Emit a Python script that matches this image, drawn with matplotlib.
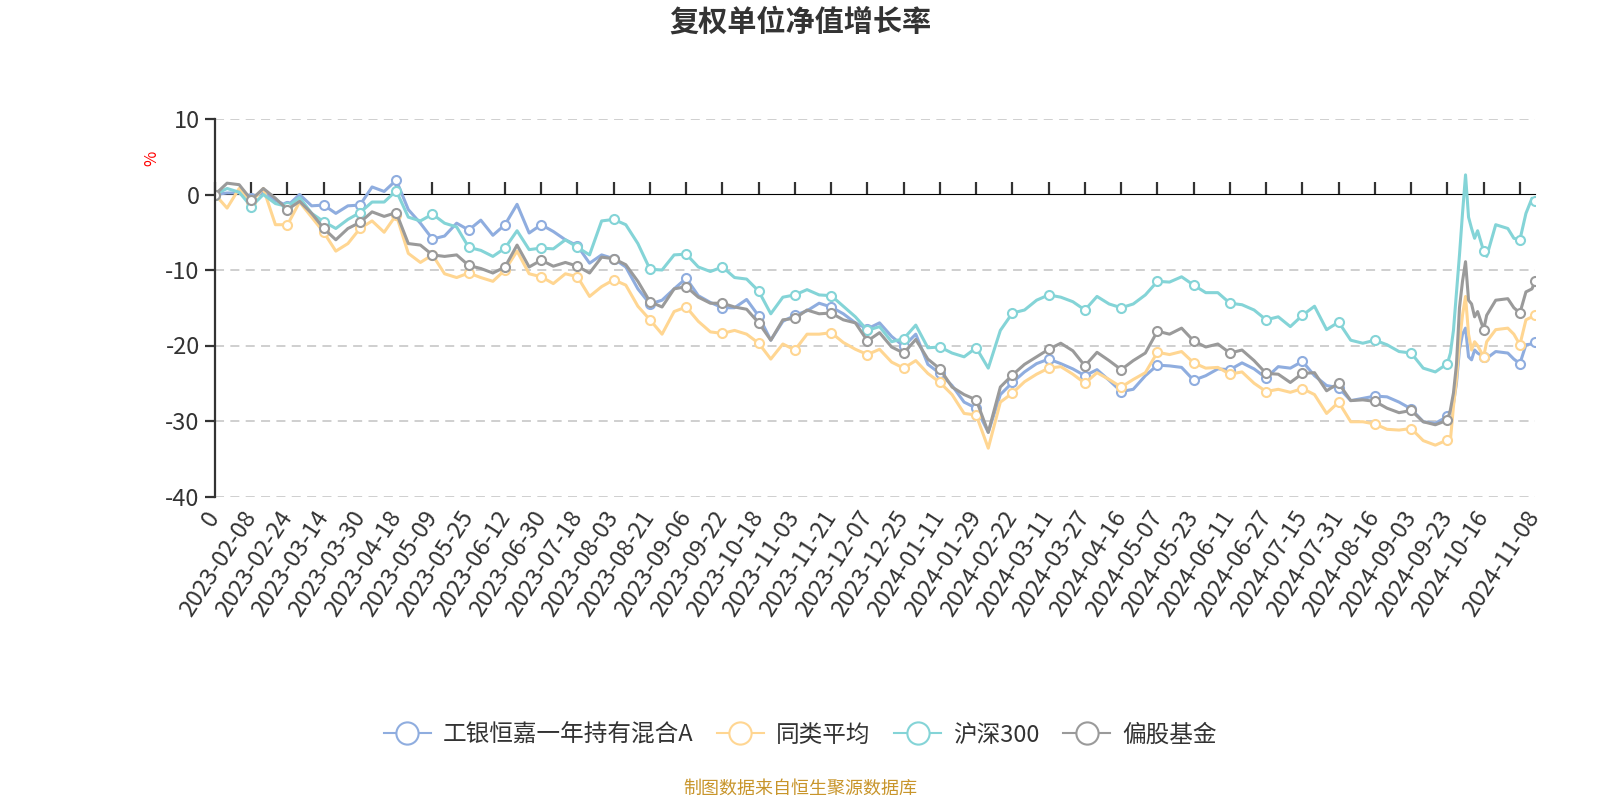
import numpy as np
import matplotlib
matplotlib.use("Agg")
from matplotlib import pyplot as plt
from matplotlib.lines import Line2D

plt.rcParams['font.family'] = ['Noto Sans CJK SC', 'DejaVu Sans']
plt.rcParams['axes.unicode_minus'] = False

# trading-day offset of each sample (every 4 days, denser around the Sept 2024 spike)
day = list(range(0, 405, 4)) + [408, 409, 410, 411, 412, 413, 414, 415, 416, 417,
                                 418, 420, 421, 424, 428, 430, 432, 434, 436, 437]

fund = [0, 0.2, 0.2, -0.5, 0.3, -0.8, -1.5, 0.0, -1.5, -1.4, -2.5, -1.5, -1.4, 1.0,
        0.4, 1.9, -2.0, -3.8, -5.9, -5.5, -3.8, -4.7, -3.4, -5.4, -4.0, -1.3, -5.1, -4.0,
        -4.9, -6.0, -6.8, -9.1, -8.0, -8.5, -9.6, -12.5, -14.5, -14.0, -12.5, -11.1, -13.4,
        -14.3, -15.0, -15.0, -13.9, -16.1, -19.3, -16.8, -16.0, -15.4, -14.4, -14.9, -15.8,
        -17.0, -17.8,
        -17.0, -18.8, -20.1, -18.5, -22.5, -23.7, -25.3, -27.5, -28.3, -31.5, -26.5, -24.9,
        -23.5, -22.4, -21.8, -22.4, -23.1, -24.0, -23.2, -24.6, -26.1, -25.8, -24.0, -22.6,
        -22.7, -22.9, -24.6, -24.0,
        -23.1, -23.2, -22.3, -23.1, -24.3, -22.8, -23.0, -22.1, -24.0, -25.3, -25.6, -27.3,
        -27.0, -26.7, -26.8, -27.5, -28.4, -30.1, -30.3,
        -29.4, -29.2, -27.7, -25.0, -20.5, -18.5, -17.7, -21.5, -21.9, -20.6, -21.0, -21.5,
        -21.7, -20.8, -21.0, -21.8, -22.4, -19.9, -19.8, -19.6]

peer_avg = [0, -1.8, 0.8, -1.0, 0.8, -4.0, -4.0, -1.0, -3.0, -5.0, -7.5, -6.5, -4.5, -3.5,
            -5.0, -2.7, -7.8, -9.0, -8.0, -10.5, -11.0, -10.4, -11.0, -11.5, -10.0, -7.5,
            -10.5, -10.9,
            -11.8, -10.5, -10.9, -13.5, -12.2, -11.3, -12.0, -14.8, -16.6, -18.5, -15.5, -14.9,
            -16.8, -18.2, -18.4, -18.0, -18.5, -19.7, -21.8, -19.8, -20.6, -18.5, -18.5, -18.3,
            -19.6, -20.5, -21.2,
            -20.5, -22.2, -23.0, -22.0, -23.7, -24.9, -26.5, -29.0, -29.2, -33.6, -27.5, -26.3,
            -24.8, -23.8, -23.0, -22.8, -23.8, -25.0, -23.6, -24.5, -25.5, -24.5, -23.6, -20.9,
            -21.2, -20.8, -22.3, -23.0,
            -22.9, -23.8, -23.5, -25.0, -26.1, -25.8, -26.2, -25.7, -26.5, -29.0, -27.5, -30.1,
            -30.1, -30.4, -31.1, -31.2, -31.0, -32.6, -33.2,
            -32.5, -32.5, -28.1, -24.5, -19.5, -16.0, -13.5, -18.5, -20.6, -19.5, -20.0, -21.5,
            -19.5, -17.9, -17.7, -18.5, -19.9, -16.6, -16.2, -16.0]

hs300 = [0, 0.8, 0.3, -1.6, 0, -1.2, -1.6, -0.4, -2.5, -3.6, -4.5, -3.3, -2.4, -1.0, -1.0,
         0.5, -3.0, -3.5, -2.6, -3.8, -4.3, -7.0, -7.4, -8.2, -7.1, -4.8, -7.3, -7.1,
         -7.2, -6.0, -7.0, -8.0, -3.5, -3.3, -4.0, -6.5, -9.9, -10.0, -8.0, -7.9, -9.6, -10.2,
         -9.6, -11.0, -11.2, -12.8, -15.8, -13.6, -13.3, -12.6, -13.3, -13.4, -14.8, -16.2,
         -18.0,
         -17.5, -19.5, -19.1, -17.3, -20.3, -20.2, -21.0, -21.5, -20.3, -23.0, -18.0, -15.7,
         -15.3, -14.0, -13.3, -13.6, -14.2, -15.3, -13.5, -14.5, -15.0, -14.5, -13.3, -11.5,
         -11.6, -10.9, -12.0, -13.0,
         -13.0, -14.4, -14.6, -15.3, -16.6, -16.2, -17.5, -16.0, -14.8, -17.9, -16.9, -19.3,
         -19.7, -19.3, -19.9, -20.8, -21.0, -23.0, -23.5,
         -22.4, -21.0, -18.0, -13.0, -8.0, -2.5, 2.6, -3.0, -4.5, -5.8, -4.8, -7.5, -8.2,
         -4.0, -4.5, -5.8, -6.0, -2.5, -0.5, -0.9]

equity_funds = [0, 1.5, 1.3, -0.7, 0.8, -0.5, -2.0, -0.9, -2.5, -4.5, -6.0, -4.5, -3.7, -2.3,
                -2.9, -2.4, -6.5, -6.7, -8.0, -8.2, -8.0, -9.4, -9.8, -10.4, -9.6, -6.7, -9.6,
                -8.7,
                -9.5, -9.0, -9.5, -10.4, -8.3, -8.5, -9.3, -11.5, -14.2, -14.9, -12.5, -12.2,
                -13.6, -14.4, -14.4, -14.9, -15.2, -17.0, -19.3, -16.6, -16.4, -15.3, -15.8,
                -15.7, -16.6, -17.0, -19.4,
                -18.3, -20.2, -21.0, -19.2, -21.8, -23.1, -25.5, -26.5, -27.2, -31.5, -25.5,
                -23.9, -22.5, -21.5, -20.5, -19.7, -20.7, -22.7, -20.9, -22.0, -23.2, -22.0,
                -21.0, -18.1, -18.5, -17.7, -19.4, -20.2,
                -19.8, -21.0, -20.6, -22.0, -23.7, -23.8, -24.9, -23.7, -23.6, -26.0, -25.0,
                -27.3, -27.2, -27.4, -28.3, -28.9, -28.6, -30.1, -30.5,
                -29.9, -28.5, -26.3, -22.5, -15.0, -11.5, -8.9, -14.0, -14.5, -16.2, -15.5,
                -17.9, -16.0, -14.0, -13.8, -15.0, -15.7, -12.9, -12.5, -11.5]

series_names = ["工银恒嘉一年持有混合A", "同类平均", "沪深300", "偏股基金"]
colors = ["#8FADDF", "#FFD692", "#84D4D7", "#9A9A9A"]

x_labels = ["0", "2023-02-08", "2023-02-24", "2023-03-14", "2023-03-30", "2023-04-18",
            "2023-05-09", "2023-05-25", "2023-06-12", "2023-06-30", "2023-07-18",
            "2023-08-03", "2023-08-21", "2023-09-06", "2023-09-22", "2023-10-18",
            "2023-11-03", "2023-11-21", "2023-12-07", "2023-12-25", "2024-01-11",
            "2024-01-29", "2024-02-22", "2024-03-11", "2024-03-27", "2024-04-16",
            "2024-05-07", "2024-05-23", "2024-06-11", "2024-06-27", "2024-07-15",
            "2024-07-31", "2024-08-16", "2024-09-03", "2024-09-23", "2024-10-16",
            "2024-11-08"]
label_step = 12  # trading days between labels
last_day = day[-1]

text_c = "#333333"

fig = plt.figure(figsize=(16, 8), dpi=100)
ax = fig.add_axes([215 / 1600, 1 - 496.5 / 800, 1320 / 1600, 377.5 / 800])

day = np.array(day)
tick_days = np.arange(0, last_day, label_step)
mark_idx = list(np.where(np.isin(day, tick_days))[0]) + [len(day) - 1]

for vals, name, c in zip([fund, peer_avg, hs300, equity_funds], series_names, colors):
    ax.plot(day, vals, color=c, lw=2.2, marker='o', markevery=mark_idx, ms=6.5,
            mfc='white', mec=c, mew=1.5, solid_joinstyle='round')

ax.set_xlim(0, last_day)
ax.set_ylim(-40, 10)
ax.set_yticks(np.arange(-40, 11, 10))
for v in [10, -10, -20, -30, -40]:
    ax.axhline(v, color="#CCCCCC", lw=1.3, ls=(0, (5, 3.5)), zorder=0)

for s in ["top", "right", "bottom"]:
    ax.spines[s].set_visible(False)
ax.spines["left"].set_color(text_c)
ax.spines["left"].set_linewidth(1.6)
ax.tick_params(axis="y", length=7, width=1.6, color=text_c, labelsize=17,
               labelcolor=text_c, pad=4)

# bottom axis: labels only
label_pos = list(tick_days[:len(x_labels) - 1]) + [last_day]
ax.set_xticks(label_pos)
ax.set_xticklabels(x_labels, rotation=57, ha="right", va="center",
                   rotation_mode="anchor", fontsize=17, color=text_c)
ax.tick_params(axis="x", length=0, pad=12)

# zero line axis with ticks
zax = ax.secondary_xaxis(0.8)
zax.spines["bottom"].set_color(text_c)
zax.spines["bottom"].set_linewidth(1.6)
zax.set_xticks(tick_days)
zax.set_xticklabels([])
zax.tick_params(axis="x", direction="out", length=9, width=1.6, color=text_c)

fig.text(152 / 1600, 1 - 158 / 800, "%", color="red", fontsize=12, rotation=90,
         ha="center", va="center")

fig.text(0.5, 1 - 22 / 800, "复权单位净值增长率", ha="center", va="center",
         fontsize=21, fontweight="bold", color=text_c)

handles = [Line2D([], [], color=c, lw=1.5, marker='o', ms=16, mfc='white', mec=c, mew=1.5)
           for c in colors]
fig.legend(handles, series_names, loc="center", bbox_to_anchor=(0.5, 1 - 735 / 800),
           ncol=4, frameon=False, fontsize=17, handlelength=2.0, handletextpad=0.5,
           columnspacing=1.0, labelcolor=text_c)

fig.text(0.5, 1 - 789 / 800, "制图数据来自恒生聚源数据库", ha="center", va="center",
         fontsize=13, color="#C8952B")

fig.savefig("out.png", dpi=100)
